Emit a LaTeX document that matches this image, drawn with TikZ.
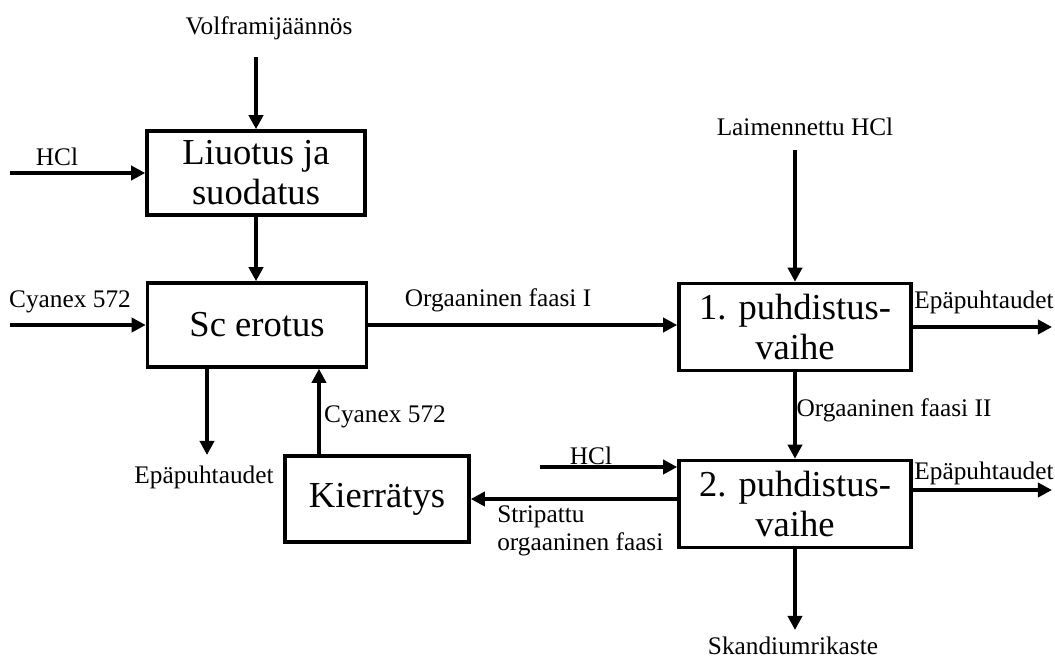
\documentclass[tikz,border=0pt]{standalone}
\usepackage{fontspec}
\setmainfont{Liberation Serif}
\usetikzlibrary{arrows.meta, positioning}

\begin{document}
\begin{tikzpicture}[
x=0.025cm, y=-0.025cm,
box/.style={draw,
rectangle,
line width=2.5pt,
inner sep=0pt,
align=center,
font=\fontsize{26}{28.5}\selectfont},
lbl/.style={inner sep=0pt, align=left, font=\fontsize{18}{20}\selectfont},
arrow/.style={-{Triangle[length=10pt, width=10pt]}, line width=2.5pt}
]
\useasboundingbox (0,0) rectangle (1055,660);

\node[box, minimum width=5.45cm, minimum height=2.1cm] (liuotus) at (256,173) {Liuotus ja\\suodatus};
\node[box, minimum width=5.475cm, minimum height=2.1cm] (erotus) at (257,325) {Sc erotus};
\node[box, minimum width=4.6cm, minimum height=2.15cm] (kierratys) at (377,499) {Kierrätys};
\node[box, minimum width=5.8cm, minimum height=2.175cm] (vaihe1) at (795,327) {1. puhdistus-\\vaihe};
\node[box, minimum width=5.8cm, minimum height=2.175cm] (vaihe2) at (795,504) {2. puhdistus-\\vaihe};

\node[lbl] (volfram) at (269,28) {Volframijäännös};
\node[lbl] (hcl1) at (57,157) {HCl};
\node[lbl] (cyanex1) at (70,302) {Cyanex 572};
\node[lbl] (faasi1) at (498,300) {Orgaaninen faasi I};
\node[lbl] (laimennettu) at (805,127) {Laimennettu HCl};
\node[lbl] (epa1) at (204,477) {Epäpuhtaudet};
\node[lbl] (cyanex2) at (385,417) {Cyanex 572};
\node[lbl] (faasi2) at (894,410) {Orgaaninen faasi II};
\node[lbl] (epa2) at (984,302) {Epäpuhtaudet};
\node[lbl] (hcl2) at (591,456) {HCl};
\node[lbl] (epa3) at (984,473) {Epäpuhtaudet};
\node[lbl, anchor=north west] (stripattu) at (497,505) {Stripattu\\orgaaninen faasi};
\node[lbl] (skandium) at (793,646) {Skandiumrikaste};

% vapaat paat
\coordinate (volIn) at (256,57);
\coordinate (hclIn) at (10,173);
\coordinate (cyIn) at (10,325);
\coordinate (epaDown) at (207,455);
\coordinate (laimIn) at (795,150);
\coordinate (epaOut1) at (1052,327);
\coordinate (hclIn2) at (540,467);
\coordinate (epaOut2) at (1052,490);
\coordinate (skOut) at (795,630);

\draw[arrow] (volIn) -- (liuotus);
\draw[arrow] (hclIn) -- (liuotus);
\draw[arrow] (liuotus) -- (liuotus |- erotus.north);
\draw[arrow] (cyIn) -- (erotus);
\draw[arrow] (erotus.east) -- (erotus.east -| vaihe1.west);
\draw[arrow] (erotus.south -| epaDown) -- (epaDown);
\draw[arrow] ([xshift=-1.45cm]kierratys.north) -- ([xshift=-1.45cm]kierratys.north |- erotus.south);
\draw[arrow] (laimIn) -- (vaihe1);
\draw[arrow] (vaihe1.east) -- (epaOut1);
\draw[arrow] (vaihe1) -- (vaihe2);
\draw[arrow] (hclIn2) -- (hclIn2 -| vaihe2.west);
\draw[arrow] (vaihe2.west |- kierratys.east) -- (kierratys.east);
\draw[arrow] (vaihe2.east |- epaOut2) -- (epaOut2);
\draw[arrow] (vaihe2) -- (skOut);

\end{tikzpicture}
\end{document}
